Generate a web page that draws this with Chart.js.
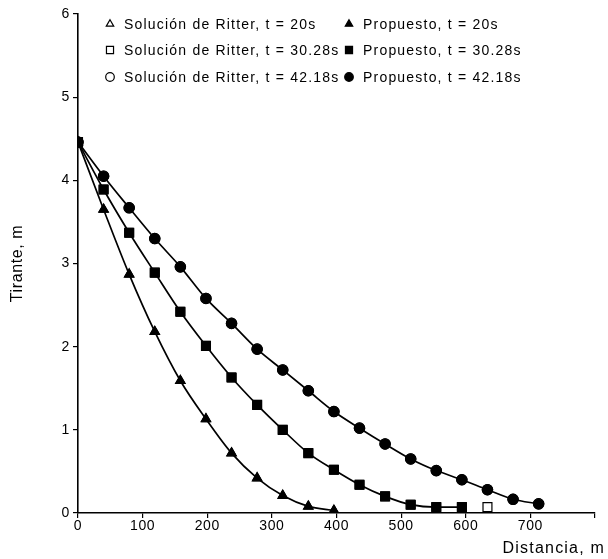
<!DOCTYPE html>
<html>
<head>
<meta charset="utf-8">
<script src="https://cdn.jsdelivr.net/npm/chart.js@4/dist/chart.umd.min.js"></script>
<style>
  html, body { margin: 0; padding: 0; background: #fff; }
  #wrap { width: 608px; height: 559px; }
</style>
</head>
<body>
<div id="wrap"><canvas id="myChart" width="608" height="559"></canvas></div>
<script>
// distances (m) of the computed nodes
const distancia = [0, 39.6, 79.2, 118.8, 158.4, 198, 237.6, 277.2, 316.8, 356.4, 396,
  435.6, 475.2, 514.8, 554.4, 594, 633.6, 673.2, 712.8];

// tirante (m)
const propuesto20 = [4.46, 3.65, 2.87, 2.18, 1.59, 1.13, 0.72, 0.42, 0.21, 0.08, 0.03];
const propuesto30 = [4.46, 3.89, 3.37, 2.89, 2.42, 2.01, 1.63, 1.30, 1.00, 0.72, 0.52,
  0.34, 0.20, 0.10, 0.07, 0.07];
const propuesto42 = [4.46, 4.05, 3.67, 3.30, 2.96, 2.58, 2.28, 1.97, 1.72, 1.47, 1.22,
  1.02, 0.83, 0.65, 0.51, 0.40, 0.28, 0.165, 0.11];

const ritter20 = [4.46, 3.65, 2.87, 2.18, 1.59, 1.13, 0.72, 0.42, 0.21, 0.08, 0.03];
const ritter30 = [4.46, 3.89, 3.37, 2.89, 2.42, 2.01, 1.63, 1.30, 1.00, 0.72, 0.52,
  0.34, 0.20, 0.10, 0.07, 0.07, 0.07];
const ritter42 = [4.46, 4.05, 3.67, 3.30, 2.96, 2.58, 2.28, 1.97, 1.72, 1.47, 1.22,
  1.02, 0.83, 0.65, 0.51, 0.40, 0.28, 0.165, 0.11];

const xTicks = [0, 100, 200, 300, 400, 500, 600, 700, 800];
const yTicks = [0, 1, 2, 3, 4, 5, 6];

const FONT = 'Liberation Sans, Arial, sans-serif';

function pts(ys) {
  return ys.map((y, i) => ({ x: distancia[i], y: y }));
}

// filled series carry the curve, open Ritter markers sit on top
function proposed(label, ys, style, r) {
  return {
    label: label, data: pts(ys), pointStyle: style, pointRadius: r,
    backgroundColor: '#000', borderColor: '#000', pointBorderWidth: 1,
    borderWidth: 1.7, showLine: true, cubicInterpolationMode: 'monotone', order: 2
  };
}
function ritter(label, ys, style, r) {
  return {
    label: label, data: pts(ys), pointStyle: style, pointRadius: r,
    backgroundColor: 'rgba(0,0,0,0)', borderColor: '#000', pointBorderWidth: 1.2,
    showLine: false, order: 1
  };
}

const datasets = [
  ritter('Solución de Ritter, t = 20s', ritter20, 'triangle', 5.5),
  proposed('Propuesto, t = 20s', propuesto20, 'triangle', 5.5),
  ritter('Solución de Ritter, t = 30.28s', ritter30, 'rect', 6.3),
  proposed('Propuesto, t = 30.28s', propuesto30, 'rect', 6.3),
  ritter('Solución de Ritter, t = 42.18s', ritter42, 'circle', 5.2),
  proposed('Propuesto, t = 42.18s', propuesto42, 'circle', 5.2)
];

// wider letter spacing like the typeset original
const spacingPlugin = {
  id: 'spacing',
  beforeDraw(chart) { chart.ctx.letterSpacing = '0.6px'; }
};

// legend in two columns, three rows, inside the plot; plus x title
const legendPlugin = {
  id: 'tableLegend',
  afterDraw(chart) {
    const ctx = chart.ctx;
    const cols = [110, 349];
    const rows = [24, 50, 77];
    ctx.save();
    ctx.letterSpacing = '1.2px';
    ctx.font = '14px ' + FONT;
    ctx.textBaseline = 'middle';
    ctx.textAlign = 'left';
    chart.data.datasets.forEach((ds, i) => {
      const cx = cols[i % 2];
      const cy = rows[Math.floor(i / 2)];
      const open = i % 2 === 0;
      ctx.fillStyle = open ? '#fff' : '#000';
      ctx.strokeStyle = '#000';
      ctx.lineWidth = 1.2;
      Chart.helpers.drawPoint(ctx, {
        pointStyle: ds.pointStyle, rotation: 0,
        radius: ds.pointStyle === 'rect' ? 5 : 4.3, borderWidth: 1.2
      }, cx, cy);
      ctx.fillStyle = '#000';
      ctx.fillText(ds.label, cx + 14, cy + 1);
    });

    ctx.font = '16px ' + FONT;
    ctx.letterSpacing = '1.2px';
    ctx.textAlign = 'right';
    ctx.fillText('Distancia, m', 605, 549);
    ctx.restore();
  }
};

var ctx = document.getElementById('myChart').getContext('2d');
// eslint-disable-next-line no-unused-vars
var chart = new Chart(ctx, {
  type: 'scatter',
  data: { datasets: datasets },
  options: {
    responsive: false,
    animation: false,
    layout: { padding: { top: 14, right: 13, left: 0, bottom: 0 } },
    plugins: { legend: { display: false }, tooltip: { enabled: false } },
    scales: {
      x: {
        type: 'linear', min: 0, max: 800,
        afterBuildTicks: (s) => { s.ticks = xTicks.map(v => ({ value: v })); },
        afterFit: (s) => { s.height = 46; },
        grid: { drawOnChartArea: false, color: '#000', tickLength: 5, lineWidth: 1.2 },
        border: { color: '#000', width: 1.6 },
        ticks: {
          color: '#000', padding: 0, maxRotation: 0,
          font: { family: FONT, size: 14 },
          callback: (v) => (v === 800 ? '' : v)
        },
        title: { display: false }
      },
      y: {
        type: 'linear', min: 0, max: 6,
        afterBuildTicks: (s) => { s.ticks = yTicks.map(v => ({ value: v })); },
        afterFit: (s) => { s.width = 78; },
        grid: { drawOnChartArea: false, color: '#000', tickLength: 5, lineWidth: 1.2 },
        border: { color: '#000', width: 1.6 },
        ticks: { color: '#000', padding: 3, font: { family: FONT, size: 14 } },
        title: {
          display: true, text: 'Tirante, m', color: '#000',
          font: { family: FONT, size: 16 }, padding: { top: 8, bottom: 0 }
        }
      }
    }
  },
  plugins: [spacingPlugin, legendPlugin]
});
</script>
</body>
</html>
